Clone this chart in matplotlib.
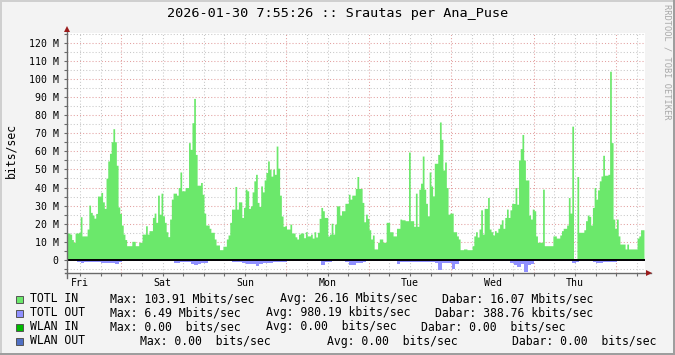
import numpy as np
import matplotlib
matplotlib.use('Agg')
import matplotlib.pyplot as plt
from matplotlib.patches import Rectangle

# TOTL IN, Mbit/s, one value per half hour from graph start (Fri morning)
tin = [
    14.6, 14.6, 14, 11, 9.5, 14.6, 14.6, 15, 23.6, 13,
    13, 13, 16.8, 30, 26, 24.5, 22.8, 25.4, 35, 35,
    37, 31.8, 28.2, 44.9, 54.4, 58.6, 65, 72.2, 65, 52,
    29, 25.4, 19, 14, 11, 7.6, 7.6, 7.6, 10, 10,
    7.6, 7.6, 9.5, 9.5, 14, 14, 18.6, 14, 15.9, 15.9,
    23.2, 25.6, 20.5, 35.5, 25, 36.6, 24.1, 20.5, 15.3, 12.6,
    22.3, 33.3, 36.6, 36.6, 35.5, 39.7, 48.3, 37.9, 37.9, 39.7,
    39.7, 64.5, 60.8, 75.5, 88.9, 58, 41, 41, 42.5, 36,
    25.6, 19, 19, 17.2, 15, 15, 11.3, 8, 8, 5.4,
    5.4, 7.3, 7.3, 11.3, 13.5, 20.5, 27.8, 27.8, 40.3, 27.8,
    31.8, 31.8, 23.2, 28.7, 38.8, 37.9, 28.2, 29.6, 37.3, 43.4,
    47, 31.5, 29.3, 40.6, 37.3, 43.9, 48, 54.4, 49.8, 46,
    49.8, 47, 62.6, 50.4, 35.5, 24, 18.3, 18.6, 16.8, 16.8,
    19.5, 14.6, 14.6, 12.5, 11.3, 14, 14.6, 14.6, 12, 15.3,
    13, 13, 14, 11.8, 15.3, 12.4, 15, 22.7, 28.7, 26.9,
    23.2, 23.2, 13, 14, 20, 14, 19.5, 29.6, 29.6, 24.5,
    26.9, 26.9, 31, 31, 36, 33.3, 35.5, 35.5, 39.2, 45.8,
    39.2, 39.2, 31.5, 20.8, 25, 22.7, 16.4, 11.3, 13.5, 5.8,
    5.8, 9.5, 11.3, 11.3, 9.5, 9.5, 20.5, 20.5, 15.3, 15.3,
    13, 13, 17.2, 17.2, 22.3, 21.9, 21.9, 21.4, 21.4, 59.3,
    21.4, 21.4, 18.3, 36.6, 18.3, 38.8, 42.1, 57.1, 38.8, 31,
    24.1, 48.3, 40.6, 35.1, 53.1, 53.1, 58, 75.9, 66.3, 49.4,
    53.8, 39.7, 25, 25.6, 25.6, 15.3, 15.3, 13, 11.3, 5.4,
    5.4, 5.8, 5.8, 5.4, 5.4, 5.4, 7.6, 13, 15.3, 12.4,
    16.8, 27.4, 14, 28.2, 28.2, 34.2, 16.8, 15.3, 13.5, 15.9,
    15, 17.2, 19.5, 21.9, 17.2, 23.2, 27.8, 23.2, 27.4, 31,
    30.9, 39.7, 30.5, 54.9, 61.2, 69, 54.9, 43.9, 43.9, 24.5,
    22.3, 27.8, 26.9, 13, 9.5, 9.5, 9.5, 38.8, 7.6, 7.6,
    7.6, 7.6, 7.6, 13, 13, 11.8, 11.8, 13.5, 15.9, 17.2,
    17.2, 19, 34.2, 25.6, 73.6, 0, 0, 45.8, 15, 15,
    15, 16.4, 21.4, 24.5, 23.8, 19, 28.7, 39.7, 33.3, 38.4,
    43.4, 46.1, 57.5, 46.5, 46.5, 47, 103.91, 64.5, 22.3, 17.2,
    22.3, 13, 8.5, 8.5, 8.5, 5.8, 8.5, 5.8, 5.8, 5.8,
    5.8, 5.8, 11.8, 13, 16.4, 16.4,
]

# TOTL OUT, Mbit/s, one value per hour
tout = [
    0.8, 0.8, 0.8, 1.2, 1.5, 1.2, 1.0, 1.0, 1.0, 1.2,
    1.5, 1.5, 1.5, 1.8, 2.0, 1.2, 0.5, 0.4, 0.3, 0.3,
    0.3, 0.3, 0.3, 0.7, 0.7, 0.7, 0.7, 0.7, 0.7, 0.7,
    0.7, 1.5, 1.5, 1.2, 1.2, 1.2, 2.0, 2.8, 2.2, 1.5,
    1.5, 0.8, 0.8, 0.8, 0.4, 0.4, 0.4, 0.6, 1.0, 1.0,
    1.0, 1.6, 2.2, 2.2, 2.5, 3.6, 2.0, 1.5, 1.5, 1.5,
    1.2, 1.2, 1.2, 1.2, 0.6, 0.6, 0.6, 0.6, 0.6, 0.6,
    0.6, 0.6, 0.6, 0.6, 3.0, 1.2, 1.0, 0.8, 0.8, 0.8,
    0.8, 1.0, 3.0, 2.8, 1.5, 1.5, 1.2, 0.4, 0.4, 0.4,
    0.4, 0.4, 0.6, 0.6, 0.6, 0.6, 2.0, 1.2, 1.0, 1.0,
    1.0, 1.0, 1.0, 1.0, 1.0, 1.0, 1.2, 1.8, 5.6, 1.5,
    1.5, 1.5, 4.9, 2.0, 0.4, 0.4, 0.4, 0.4, 0.8, 0.8,
    0.8, 0.8, 0.8, 0.8, 0.8, 0.8, 0.8, 0.8, 0.8, 1.8,
    3.0, 4.0, 2.5, 6.49, 3.0, 2.0, 0.4, 0.4, 0.4, 0.4,
    0.4, 0.4, 0.4, 0.4, 0.4, 0.4, 0.6, 1.5, 1.2, 0.8,
    0.8, 0.8, 0.8, 1.2, 1.5, 1.5, 1.2, 1.2, 1.2, 1.2,
    0.4, 0.4, 0.4, 0.4, 0.4, 0.4, 0.4, 0.4,
]

days = ['Fri', 'Sat', 'Sun', 'Mon', 'Tue', 'Wed', 'Thu']
first_midnight = 15.8   # hours from graph start
span = 168.15           # hours shown

names = ['TOTL IN', 'TOTL OUT', 'WLAN IN', 'WLAN OUT']
colors = ['#6be86b', '#9090ff', '#00bb00', '#5070c4']
max_txt = ['Max: 103.91 Mbits/sec', 'Max: 6.49 Mbits/sec',
           'Max: 0.00  bits/sec', 'Max: 0.00  bits/sec']
avg_txt = ['Avg: 26.16 Mbits/sec', 'Avg: 980.19 kbits/sec',
           'Avg: 0.00  bits/sec', 'Avg: 0.00  bits/sec']
cur_txt = ['Dabar: 16.07 Mbits/sec', 'Dabar: 388.76 kbits/sec',
           'Dabar: 0.00  bits/sec', 'Dabar: 0.00  bits/sec']

mono = 'DejaVu Sans Mono'
W, H = 675, 355
fig = plt.figure(figsize=(W / 100, H / 100), dpi=100, facecolor='#f3f3f3')
ax = fig.add_axes([67 / W, (H - 273) / H, 578 / W, 240 / H])
ax.set_facecolor('white')
ax.set_axisbelow(True)
ymin, ymax = -7.2, 125.3
ax.set_xlim(0, span)
ax.set_ylim(ymin, ymax)
for s in ax.spines.values():
    s.set_visible(False)

# grid
gray = '#c8c8c8'
red = '#e3a0a0'
dots = (0, (1, 2))
for v in np.arange(-5, 126, 5):
    c = red if v % 10 == 0 else gray
    ax.axhline(v, color=c, lw=0.75, ls=dots, zorder=0.5)
for h in np.arange(first_midnight - 12, span, 6):
    c = red if abs((h - first_midnight) % 24) < 1e-6 else gray
    ax.axvline(h, color=c, lw=0.75, ls=dots, zorder=0.5)

# data, drawn as steps
t_in = np.arange(len(tin) + 1) * 0.5
t_out = np.arange(len(tout) + 1) * 1.0
v_in = np.append(tin, tin[-1])
v_out = -np.append(tout, tout[-1])
ax.fill_between(t_in, 0, v_in, step='post', facecolor=colors[0], lw=0,
                edgecolor='none', zorder=2)
ax.fill_between(t_out, 0, v_out, step='post', facecolor=colors[1], lw=0,
                edgecolor='none', zorder=2)
ax.axhline(0, color='black', lw=1.4, zorder=3)

# axes lines with arrows
axc = '#6a6a6a'
ax.plot([-0.004, 1.01], [0, 0], transform=ax.transAxes, color=axc, lw=1,
        clip_on=False, zorder=4)
ax.plot([0, 0], [-0.02, 1.012], transform=ax.transAxes, color=axc, lw=1,
        clip_on=False, zorder=4)
ax.plot([1.0075], [0], marker='>', transform=ax.transAxes, color='#9b1c1c',
        ms=4.5, mew=0, clip_on=False, zorder=5)
ax.plot([0], [1.017], marker='^', transform=ax.transAxes, color='#9b1c1c',
        ms=4.5, mew=0, clip_on=False, zorder=5)

# ticks
yt = np.arange(0, 121, 10)
ax.set_yticks(yt, ['0' if v == 0 else f'{v} M' for v in yt])
ax.set_yticks(np.arange(-5, 126, 10), minor=True)
ax.tick_params(axis='y', which='major', length=2.5, width=0.8, color=axc,
               pad=3.5, labelsize=7.1, labelfontfamily=mono)
ax.tick_params(axis='y', which='minor', length=2, width=0.8, color=axc)
noon = [first_midnight - 12 + 24 * k for k in range(len(days))]
ax.set_xticks(noon, days)
ax.set_xticks([h for h in np.arange(first_midnight - 12, span, 6)
               if h not in noon], minor=True)
ax.tick_params(axis='x', which='both', length=2, width=0.8, color=axc,
               pad=1.5, labelsize=7.1, labelfontfamily=mono)

# texts
fig.text(0.5, 1 - 13.5 / H, '2026-01-30 7:55:26 :: Srautas per Ana_Puse',
         ha='center', va='center', fontsize=9.7, family=mono)
fig.text(11 / W, 1 - 150 / H, 'bits/sec', rotation=90, ha='center',
         va='center', fontsize=8.3, family=mono)
fig.text(667 / W, 1 - 4 / H, 'RRDTOOL / TOBI OETIKER', rotation=270,
         ha='center', va='top', fontsize=6.2, family=mono, color='#a8a8a8')

rows_y = [298.5, 312.5, 326.5, 341]
max_x = [110, 110, 110, 140]
avg_x = [280, 266, 266, 327]
cur_x = [442, 435, 421, 512]
for i in range(4):
    yy = 1 - rows_y[i] / H
    fig.patches.append(Rectangle((15.5 / W, 1 - (rows_y[i] + 4) / H), 7 / W, 7 / H,
                                 transform=fig.transFigure, facecolor=colors[i],
                                 edgecolor='#555555', lw=0.7))
    fig.text(30 / W, yy, names[i], va='center', fontsize=8.3, family=mono)
    fig.text(max_x[i] / W, yy, max_txt[i], va='center', fontsize=8.3, family=mono)
    fig.text(avg_x[i] / W, yy, avg_txt[i], va='center', fontsize=8.3, family=mono)
    fig.text(cur_x[i] / W, yy, cur_txt[i], va='center', fontsize=8.3, family=mono)

# 3d-ish border
fig.patches.append(Rectangle((0, 1 - 2 / H), 1, 2 / H, transform=fig.transFigure,
                             color='#cfcfcf', lw=0))
fig.patches.append(Rectangle((0, 0), 2 / W, 1, transform=fig.transFigure,
                             color='#cfcfcf', lw=0))
fig.patches.append(Rectangle((0, 0), 1, 2 / H, transform=fig.transFigure,
                             color='#9e9e9e', lw=0))
fig.patches.append(Rectangle((1 - 2 / W, 0), 2 / W, 1, transform=fig.transFigure,
                             color='#9e9e9e', lw=0))

fig.savefig('out.png', dpi=100, facecolor=fig.get_facecolor())
